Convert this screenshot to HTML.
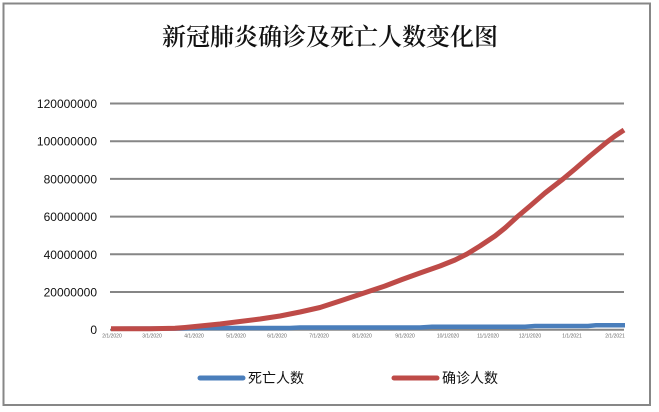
<!DOCTYPE html>
<html>
<head>
<meta charset="utf-8">
<style>
html,body{margin:0;padding:0;background:#fff;}
svg{display:block;}
</style>
</head>
<body>
<svg width="659" height="412" viewBox="0 0 659 412" xmlns="http://www.w3.org/2000/svg">
  <rect x="0" y="0" width="659" height="412" fill="#fff"/>
  <rect x="3.5" y="3.5" width="646.5" height="401.5" fill="none" stroke="#878787" stroke-width="2"/>

  <text x="330" y="45" text-anchor="middle" font-family="'Liberation Serif','Noto Serif CJK SC',serif" font-size="24" font-weight="600" fill="#111">新冠肺炎确诊及死亡人数变化图</text>

  <!-- gridlines -->
  <g stroke="#868686" stroke-width="2">
    <line x1="110" y1="103.5" x2="624" y2="103.5"/>
    <line x1="110" y1="141.2" x2="624" y2="141.2"/>
    <line x1="110" y1="178.9" x2="624" y2="178.9"/>
    <line x1="110" y1="216.6" x2="624" y2="216.6"/>
    <line x1="110" y1="254.3" x2="624" y2="254.3"/>
    <line x1="110" y1="292" x2="624" y2="292"/>
    <line x1="110" y1="329.7" x2="624" y2="329.7"/>
  </g>

  <!-- y labels -->
  <g font-family="'Liberation Sans',sans-serif" font-size="12" fill="#111" text-anchor="end">
    <text x="97" y="108">120000000</text>
    <text x="97" y="145.7">100000000</text>
    <text x="97" y="183.4">80000000</text>
    <text x="97" y="221.1">60000000</text>
    <text x="97" y="258.8">40000000</text>
    <text x="97" y="296.5">20000000</text>
    <text x="97" y="334.2">0</text>
  </g>

  <!-- x labels -->
  <g font-family="'Liberation Sans',sans-serif" font-size="5" fill="#666" text-anchor="middle">
    <text x="112" y="337.5">2/1/2020</text>
    <text x="152" y="337.5">3/1/2020</text>
    <text x="194" y="337.5">4/1/2020</text>
    <text x="236" y="337.5">5/1/2020</text>
    <text x="277" y="337.5">6/1/2020</text>
    <text x="319" y="337.5">7/1/2020</text>
    <text x="362" y="337.5">8/1/2020</text>
    <text x="405" y="337.5">9/1/2020</text>
    <text x="448" y="337.5">10/1/2020</text>
    <text x="488" y="337.5">11/1/2020</text>
    <text x="530" y="337.5">12/1/2020</text>
    <text x="572" y="337.5">1/1/2021</text>
    <text x="615" y="337.5">2/1/2021</text>
  </g>

  <!-- deaths (blue) -->
  <polyline fill="none" stroke="#4a7ebb" stroke-width="4.5" stroke-linejoin="round"
    points="111,328.7 180,328.5 200,328 290,328 300,327.5 420,327.5 432,326.8 525,326.8 535,326 588,326 596,325.3 625,325.2"/>

  <!-- confirmed (red) -->
  <polyline fill="none" stroke="#be4b48" stroke-width="5" stroke-linejoin="round"
    points="111,328.7 150,328.7 175,328.3 185,327.5 200,326 220,324 240,321.5 260,319 280,316 300,312 320,307.5 340,301 355,296 367,292 385,286 402,279.5 420,273 440,266 455,260 467,254 480,246 495,236 505,228 517,217 530,206 545,193 563,179 575,169 590,156 607,142 615,136 624,130"/>

  <!-- legend -->
  <line x1="200" y1="378" x2="243" y2="378" stroke="#4a7ebb" stroke-width="5" stroke-linecap="round"/>
  <text x="248" y="383" font-family="'Liberation Sans','Noto Sans CJK SC',sans-serif" font-size="14" fill="#111">死亡人数</text>
  <line x1="394" y1="378" x2="437" y2="378" stroke="#be4b48" stroke-width="5" stroke-linecap="round"/>
  <text x="442" y="383" font-family="'Liberation Sans','Noto Sans CJK SC',sans-serif" font-size="14" fill="#111">确诊人数</text>
</svg>
</body>
</html>
